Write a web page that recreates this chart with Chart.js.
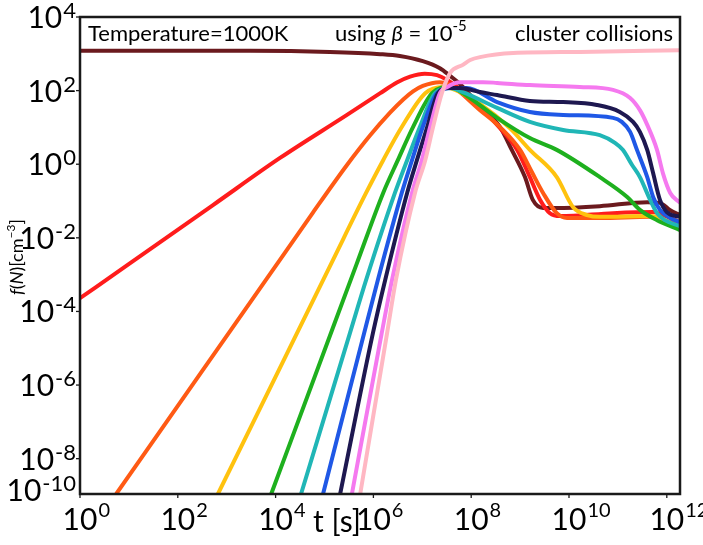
<!DOCTYPE html>
<html>
<head>
<meta charset="utf-8">
<script src="https://cdn.jsdelivr.net/npm/chart.js@4.4.1/dist/chart.umd.min.js"></script>
<style>
  html, body { margin: 0; padding: 0; background: #fff; }
  #wrap { width: 703px; height: 545px; position: relative; }
</style>
</head>
<body>
<div id="wrap"><canvas id="myChart"></canvas></div>
<script>
// values, as log10 of t [s] and log10 of f(N) [cm^-3]
let logT1 = [0, 3.48, 5.11, 6.14, 6.54, 7.01, 7.36, 7.57, 7.77, 8.18, 8.59, 8.83, 9.10, 9.26, 9.47, 9.71, 10.63, 11.60, 11.86, 12.07, 12.27]
let logF1 = [3.08, 3.08, 3.05, 2.99, 2.94, 2.80, 2.61, 2.40, 2.18, 1.58, 1.01, 0.39, -0.35, -0.97, -1.19, -1.19, -1.14, -1.03, -1.05, -1.25, -1.38]

let logT2 = [0, 0.96, 2.72, 4.09, 5.46, 6.14, 6.48, 6.75, 7.05, 7.30, 7.51, 7.71, 8.18, 8.59, 8.94, 9.20, 9.41, 9.61, 9.82, 10.90, 11.72, 11.92, 12.27]
let logF2 = [-3.64, -2.75, -1.11, 0.17, 1.34, 1.93, 2.22, 2.38, 2.46, 2.42, 2.29, 2.10, 1.55, 0.98, 0.39, -0.35, -0.97, -1.33, -1.41, -1.33, -1.30, -1.38, -1.57]

let logT3 = [0.74, 2.45, 3.82, 4.76, 5.46, 5.93, 6.34, 6.61, 6.81, 7.01, 7.36, 7.57, 8.18, 8.59, 9.00, 9.24, 9.47, 9.75, 9.96, 10.63, 11.66, 11.96, 12.27]
let logF3 = [-8.96, -5.71, -3.11, -1.32, -0.02, 0.78, 1.40, 1.76, 1.98, 2.13, 2.23, 2.15, 1.47, 1.01, 0.39, -0.21, -0.78, -1.33, -1.46, -1.46, -1.43, -1.52, -1.68]

let logT4 = [2.82, 3.82, 5.17, 5.85, 6.20, 6.58, 7.06, 7.42, 7.67, 8.18, 8.79, 9.20, 9.75, 10.08, 10.37, 10.63, 11.66, 11.96, 12.27]
let logF4 = [-8.96, -6.26, -2.61, -0.78, 0.11, 1.01, 1.93, 2.10, 2.02, 1.64, 0.98, 0.39, -0.35, -1.16, -1.38, -1.43, -1.41, -1.52, -1.76]

let logT5 = [3.91, 5.17, 5.66, 6.20, 6.50, 6.81, 7.20, 7.57, 7.83, 8.53, 9.20, 9.75, 10.63, 11.19, 11.45, 11.80, 12.27]
let logF5 = [-8.96, -4.45, -2.70, -0.78, 0.11, 1.01, 1.93, 2.10, 1.93, 1.26, 0.71, 0.39, -0.35, -0.89, -1.24, -1.52, -1.79]

let logT6 = [4.52, 5.52, 5.85, 6.44, 6.69, 6.95, 7.26, 7.57, 7.83, 8.53, 9.20, 9.88, 10.63, 10.94, 11.10, 11.29, 11.45, 11.66, 11.80, 11.96, 12.27]
let logF6 = [-8.96, -4.59, -3.15, -0.78, 0.11, 1.01, 1.93, 2.07, 1.96, 1.53, 1.15, 0.93, 0.79, 0.58, 0.39, -0.02, -0.35, -0.97, -1.33, -1.52, -1.68]

let logT7 = [4.97, 5.81, 6.09, 6.58, 6.79, 7.01, 7.30, 7.61, 7.91, 8.53, 9.20, 9.88, 10.90, 11.08, 11.25, 11.39, 11.60, 11.72, 11.86, 12.07, 12.27]
let logF7 = [-8.96, -4.59, -3.15, -0.78, 0.11, 1.01, 1.93, 2.07, 2.07, 1.69, 1.42, 1.34, 1.26, 1.15, 0.88, 0.39, -0.35, -0.89, -1.24, -1.46, -1.57]

let logT8 = [5.32, 5.99, 6.24, 6.69, 6.89, 7.10, 7.32, 7.53, 7.77, 8.18, 8.53, 9.20, 9.88, 10.57, 11.04, 11.31, 11.45, 11.60, 11.72, 11.86, 12.00, 12.27]
let logF8 = [-8.96, -4.59, -3.15, -0.78, 0.11, 1.01, 1.93, 2.07, 2.07, 1.96, 1.88, 1.72, 1.69, 1.61, 1.42, 1.15, 0.88, 0.39, -0.24, -0.97, -1.30, -1.43]

let logT9 = [5.56, 6.17, 6.38, 6.79, 6.99, 7.16, 7.36, 7.51, 7.77, 8.24, 8.53, 9.20, 10.22, 10.90, 11.25, 11.45, 11.60, 11.80, 11.92, 12.07, 12.27]
let logF9 = [-8.96, -4.59, -3.15, -0.78, 0.11, 1.01, 1.93, 2.10, 2.23, 2.23, 2.21, 2.15, 2.10, 2.02, 1.80, 1.47, 1.07, 0.39, -0.24, -0.78, -1.05]

let logT10 = [5.73, 6.28, 6.46, 6.85, 7.06, 7.22, 7.40, 7.57, 7.83, 7.98, 8.18, 8.86, 10.22, 12.27]
let logF10 = [-8.96, -4.59, -3.15, -0.78, 0.11, 1.01, 1.93, 2.48, 2.70, 2.83, 2.91, 3.02, 3.05, 3.10]

let colors = ['#6b1a1e', '#ff1c1c', '#ff5a14', '#ffc20e', '#1eb01e', '#20b6b6', '#1f58e6', '#1e1850', '#f579ef', '#ffb7c3']

let xTickExps = [0, 2, 4, 6, 8, 10, 12]
let yTickExps = [4, 2, 0, -2, -4, -6, -8]
let yBottomExp = '-10'
let xMaxExp = 12.27
let yMinExp = -8.96

let allT = [logT1, logT2, logT3, logT4, logT5, logT6, logT7, logT8, logT9, logT10]
let allF = [logF1, logF2, logF3, logF4, logF5, logF6, logF7, logF8, logF9, logF10]

let datasets = []
allT.forEach((lt, i) => {
    datasets.push({
        label: 'N=' + (i + 1),
        data: lt.map((e, j) => ({ x: Math.pow(10, e), y: Math.pow(10, allF[i][j]) })),
        borderColor: colors[i],
        borderWidth: 4,
        pointRadius: 0,
        fill: false,
        cubicInterpolationMode: 'monotone',
        order: allT.length - i
    })
})

// frame, ticks and labels with superscripts
const decor = {
    id: 'decor',
    afterDatasetsDraw(chart) {
        const ctx = chart.ctx
        const a = chart.chartArea
        const xs = chart.scales.x
        const ys = chart.scales.y
        ctx.save()
        ctx.strokeStyle = '#1a1a1a'
        ctx.fillStyle = '#000'
        ctx.lineWidth = 2.5
        ctx.strokeRect(a.left, a.top, a.right - a.left, a.bottom - a.top)
        ctx.lineWidth = 1.3

        xTickExps.forEach(e => {
            let px = xs.getPixelForValue(Math.pow(10, e))
            ctx.beginPath()
            ctx.moveTo(px, a.bottom)
            ctx.lineTo(px, a.bottom + 4)
            ctx.stroke()
            ctx.font = '30px Lato'
            ctx.textAlign = 'center'
            ctx.fillText('10', px, 530)
            let w = ctx.measureText('10').width
            ctx.font = '20px Lato'
            ctx.textAlign = 'left'
            ctx.fillText(String(e), px + w / 2 + 1, 517)
        })

        let yLabel = (exp, py) => {
            ctx.font = '22px Lato'
            let ws = ctx.measureText(exp).width
            ctx.font = '30px Lato'
            let wm = ctx.measureText('10').width
            let x0 = 76 - ws - wm - 1
            ctx.textAlign = 'left'
            ctx.fillText('10', x0, py + 11)
            ctx.font = '22px Lato'
            ctx.fillText(exp, x0 + wm + 1, py + 1)
        }
        yTickExps.forEach(e => {
            let py = ys.getPixelForValue(Math.pow(10, e))
            ctx.beginPath()
            ctx.moveTo(a.left - 4, py)
            ctx.lineTo(a.left, py)
            ctx.stroke()
            yLabel(String(e), py)
        })
        yLabel(yBottomExp, a.bottom - 4)

        // axis titles
        ctx.font = '30px Lato'
        ctx.textAlign = 'center'
        ctx.fillText('t [s]', 337, 532)

        ctx.save()
        ctx.translate(23, 257)
        ctx.rotate(-Math.PI / 2)
        let parts = [['italic 18px Lato', 'f', 0], ['18px Lato', '(', 0], ['italic 18px Lato', 'N', 0],
                     ['18px Lato', ')[cm', 0], ['12px Lato', '\u22123', -8], ['18px Lato', ']', 0]]
        let total = 0
        parts.forEach(p => { ctx.font = p[0]; total += ctx.measureText(p[1]).width })
        let cx = -total / 2
        ctx.textAlign = 'left'
        parts.forEach(p => {
            ctx.font = p[0]
            ctx.fillText(p[1], cx, p[2])
            cx += ctx.measureText(p[1]).width
        })
        ctx.restore()

        // in-plot notes
        ctx.textAlign = 'left'
        ctx.font = '22px Lato'
        ctx.fillText('Temperature=1000K', a.left + 8, 41)
        let notes = [['22px Lato', 'using ', 0], ['italic 22px Lato', '\u03b2', 0], ['22px Lato', ' = 10', 0], ['15px Lato', '-5', -10]]
        let nx = 335
        notes.forEach(p => {
            ctx.font = p[0]
            ctx.fillText(p[1], nx, 41 + p[2])
            nx += ctx.measureText(p[1]).width
        })
        ctx.font = '22px Lato'
        ctx.textAlign = 'right'
        ctx.fillText('cluster collisions', a.right - 7, 41)
        ctx.restore()
    }
}

var chart = new Chart('myChart', {
    type: 'line',
    data: { datasets: datasets },
    options: {
        responsive: true,
        maintainAspectRatio: false,
        animation: false,
        layout: { padding: { left: 80, top: 17, right: 23, bottom: 51 } },
        plugins: { legend: { display: false }, tooltip: { enabled: false } },
        scales: {
            x: { type: 'logarithmic', display: false, min: 1, max: Math.pow(10, xMaxExp) },
            y: { type: 'logarithmic', display: false, min: Math.pow(10, yMinExp), max: 1e4 }
        }
    },
    plugins: [decor]
})
</script>
</body>
</html>
